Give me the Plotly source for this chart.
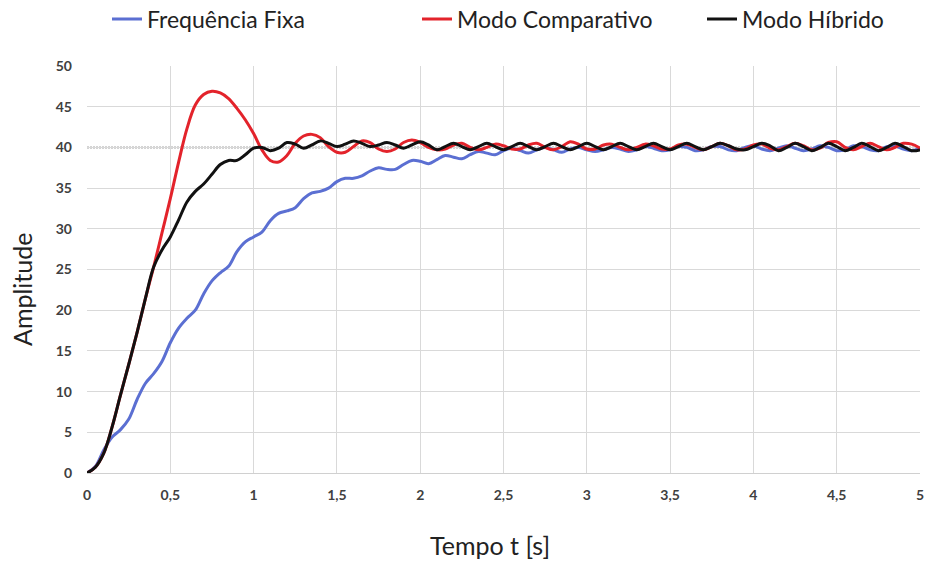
import plotly.graph_objects as go

# sampling grid (seconds), step 0.05 s from 0 to 5
tempo = [round(i * 0.05, 2) for i in range(101)]

freq_fixa = [
    0.0, 0.8, 2.8, 4.4, 5.3, 6.6, 9.0, 11.0, 12.2, 13.7,
    16.0, 17.8, 19.0, 20.0, 22.0, 23.6, 24.6, 25.4, 27.2, 28.4,
    29.0, 29.6, 31.0, 31.9, 32.2, 32.6, 33.7, 34.4, 34.6, 35.0,
    35.8, 36.2, 36.2, 36.5, 37.1, 37.5, 37.3, 37.3, 37.9, 38.4,
    38.3, 38.0, 38.5, 39.0, 38.8, 38.6, 39.1, 39.5, 39.3, 39.1,
    39.6, 39.9, 39.6, 39.3, 39.7, 40.0, 39.7, 39.4, 39.8, 40.0,
    39.7, 39.5, 39.7, 40.0, 39.8, 39.5, 39.7, 40.1, 39.9, 39.6,
    39.7, 40.1, 40.0, 39.6, 39.7, 40.1, 40.1, 39.7, 39.6, 40.0,
    40.2, 39.8, 39.6, 39.9, 40.2, 39.9, 39.6, 39.8, 40.2, 40.0,
    39.6, 39.7, 40.2, 40.1, 39.7, 39.6, 40.1, 40.2, 39.8, 39.6,
    39.9,
]

modo_comparativo = [
    0.0, 0.7, 2.4, 5.6, 9.5, 13.3, 17.2, 21.4, 25.3, 29.5,
    33.7, 38.2, 42.3, 45.2, 46.5, 46.9, 46.7, 46.0, 44.8, 43.4,
    41.7, 39.7, 38.4, 38.2, 39.0, 40.5, 41.4, 41.6, 41.2, 40.1,
    39.4, 39.4, 40.1, 40.8, 40.6, 39.8, 39.5, 39.8, 40.6, 40.9,
    40.6, 40.0, 39.7, 39.8, 40.3, 40.5, 40.0, 39.7, 40.0, 40.4,
    40.2, 39.8, 39.8, 40.3, 40.5, 40.0, 39.7, 40.1, 40.7, 40.4,
    39.8, 39.8, 40.3, 40.4, 40.0, 39.7, 40.0, 40.4, 40.2, 39.8,
    39.8, 40.3, 40.4, 40.0, 39.7, 40.1, 40.5, 40.2, 39.7, 39.8,
    40.3, 40.4, 39.9, 39.7, 40.1, 40.5, 40.2, 39.7, 39.9, 40.6,
    40.7, 40.0, 39.7, 40.1, 40.5, 40.1, 39.7, 40.0, 40.5, 40.4,
    39.9,
]

modo_hibrido = [
    0.0, 0.7, 2.4, 5.6, 9.5, 13.3, 17.2, 21.4, 25.3, 27.4,
    29.0, 31.1, 33.3, 34.6, 35.5, 36.7, 37.9, 38.4, 38.4, 39.1,
    39.9, 40.0, 39.6, 39.9, 40.6, 40.4, 39.9, 40.3, 40.8, 40.5,
    40.1, 40.4, 40.8, 40.5, 40.1, 40.3, 40.6, 40.3, 39.9, 40.3,
    40.7, 40.3, 39.7, 40.1, 40.5, 40.1, 39.7, 40.1, 40.5, 40.1,
    39.7, 40.1, 40.5, 40.1, 39.7, 40.1, 40.5, 40.1, 39.7, 40.1,
    40.5, 40.1, 39.7, 40.1, 40.5, 40.1, 39.7, 40.1, 40.5, 40.1,
    39.7, 40.1, 40.5, 40.1, 39.7, 40.1, 40.5, 40.2, 39.8, 39.7,
    40.1, 40.5, 40.2, 39.6, 40.0, 40.5, 40.1, 39.6, 40.0, 40.5,
    40.1, 39.6, 40.0, 40.5, 40.1, 39.6, 40.0, 40.5, 40.1, 39.6,
    39.7,
]

referencia = 40

series_names = ["Frequência Fixa", "Modo Comparativo", "Modo Híbrido"]
series_values = [freq_fixa, modo_comparativo, modo_hibrido]
series_colors = ["#5b6fd2", "#e3232b", "#111111"]
legend_ids = ["legend", "legend2", "legend3"]
legend_x_px = [107, 417, 702]

W, H = 925, 561
ML, MR, MT, MB = 87, 5, 66, 88
PW, PH = W - ML - MR, H - MT - MB
FONT = "Lato"

fig = go.Figure()
for name, vals, col, lg in zip(series_names, series_values, series_colors, legend_ids):
    fig.add_trace(go.Scatter(
        x=tempo, y=vals, name=name, mode="lines",
        line=dict(color=col, width=3, shape="spline", smoothing=1.0),
        legend=lg,
    ))

fig.add_shape(type="line", xref="x", yref="y", x0=0, x1=5, y0=referencia, y1=referencia,
              line=dict(color="#505050", width=1.5, dash="2px,1px"), layer="below")

legend_common = dict(
    orientation="h", xref="container", yref="container",
    yanchor="middle", xanchor="left", y=1 - 19 / H,
    font=dict(family=FONT, size=23, color="#222222"),
    bgcolor="rgba(0,0,0,0)", borderwidth=0,
)
layout_legends = {}
for lg, px in zip(legend_ids, legend_x_px):
    layout_legends[lg] = dict(legend_common, x=px / W)

fig.update_layout(
    width=W, height=H,
    margin=dict(l=ML, r=MR, t=MT, b=MB, autoexpand=False),
    paper_bgcolor="white", plot_bgcolor="white",
    separators=", ",
    font=dict(family=FONT, color="#222222"),
    showlegend=True,
    hovermode=False,
    **layout_legends,
)

fig.update_xaxes(
    range=[0, 5], dtick=0.5, tick0=0, automargin=False,
    showgrid=True, gridcolor="#d9d9d9", gridwidth=1,
    zeroline=False, showline=True, linecolor="#d0d0d0", linewidth=1,
    ticks="", ticklabelstandoff=9,
    tickfont=dict(family=FONT, size=14, color="#404040", weight="bold"),
)
fig.update_yaxes(
    range=[0, 50], dtick=5, tick0=0, automargin=False,
    showgrid=True, gridcolor="#d9d9d9", gridwidth=1,
    zeroline=False, showline=False,
    ticks="", ticklabelstandoff=14,
    tickfont=dict(family=FONT, size=14, color="#404040", weight="bold"),
)

# axis titles (placed as in the reference)
fig.add_annotation(text="Tempo t [s]", xref="paper", yref="paper",
                   x=(490 - ML) / PW, y=0, xanchor="center", yanchor="middle",
                   yshift=-(545 - 473), showarrow=False,
                   font=dict(family=FONT, size=25, color="#222222"))
fig.add_annotation(text="Amplitude", xref="paper", yref="paper",
                   x=0, y=(473 - 290) / PH, xanchor="center", yanchor="middle",
                   xshift=-(ML - 22), textangle=-90, showarrow=False,
                   font=dict(family=FONT, size=25, color="#222222"))

fig.write_html("out.html", config={"displayModeBar": False},
               post_script="document.body.style.margin='0';")
